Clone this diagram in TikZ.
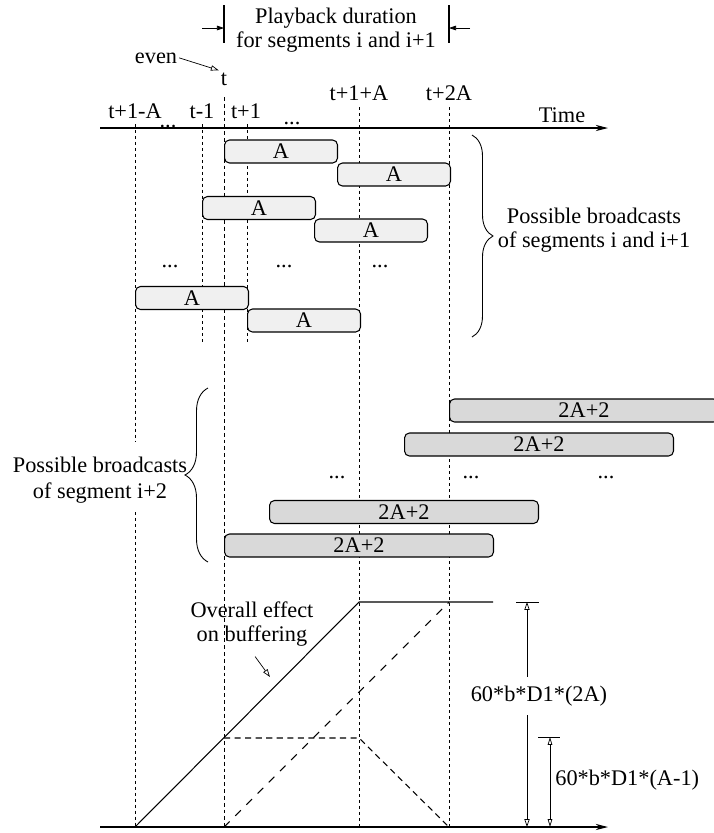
\documentclass[tikz,border=0pt]{standalone}
\usepackage{fontspec}
\setmainfont{Liberation Serif}
\usetikzlibrary{arrows.meta,decorations.pathreplacing}
\definecolor{segA}{gray}{0.94}
\definecolor{segB}{gray}{0.85}
\tikzset{
  guide/.style={line width=0.45pt, dash pattern=on 1.7pt off 1.7pt},
  abox/.style={draw, line width=0.6pt, fill=segA, rounded corners=2.8pt, anchor=west,
    minimum width=2.26cm, minimum height=0.46cm, inner sep=0pt},
  bbox/.style={abox, fill=segB, minimum width=5.38cm},
  lbl/.style={anchor=base, inner sep=1pt},
  opentip/.style={-{Triangle[open,length=4.5pt,width=3pt]}},
  dimtip/.style={{Triangle[open,length=4.5pt,width=2.6pt]}-{Triangle[open,length=4.5pt,width=2.6pt]}},
  axis/.style={line width=0.6pt, -{Stealth[length=7pt,width=3.5pt]}},
}

\begin{document}
\begin{tikzpicture}[x=0.02cm, y=-0.02cm, font=\fontsize{12.7}{13.5}\selectfont]
        \useasboundingbox (0,0) rectangle (714,833);

        % Playback duration
        \draw[line width=0.6pt] (224,5) -- (224,43);
        \draw[line width=0.6pt] (449,5) -- (449,43);
        \coordinate (pbl0) at (202,28);
        \coordinate (pbl) at (224,28);
        \coordinate (pbr0) at (470,28);
        \coordinate (pbr) at (449,28);
        \draw[-{Triangle[length=4pt,width=2.6pt]}] (pbl0) -- (pbl);
        \draw[-{Triangle[length=4pt,width=2.6pt]}] (pbr0) -- (pbr);
        \node[align=center] (play) at (336,30) {Playback duration\\for segments i and i+1};

        % Time axis
        \draw[axis] (100,128) -- (608,128);
        \node[lbl] (time) at (562,122) {Time};

        % Guide lines
        \draw[guide] (135,124) -- (135,442);
        \draw[guide] (135,512) -- (135,827);
        \draw[guide] (202,124) -- (202,343);
        \draw[guide] (247,124) -- (247,343);
        \draw[guide, line width=0.5pt, dash pattern=on 2.2pt off 1.7pt] (224,97) -- (224,827);
        \draw[guide] (359,107) -- (359,827);
        \draw[guide] (449,107) -- (449,827);

        % Time labels
        \node[lbl] (tA) at (135,118) {t+1-A};
        \node[lbl] (dotsa) at (168,127) {...};
        \node[lbl] (tm1) at (202,118) {t-1};
        \node[lbl] (tp1) at (246,118) {t+1};
        \node[lbl] (dotsb) at (292,124) {...};
        \node[lbl] (tpA) at (359,100) {t+1+A};
        \node[lbl] (t2A) at (449,100) {t+2A};
        \node[lbl] (tlab) at (224,85) {t};
        \node[lbl] (even) at (156,63) {even};
        \draw[opentip] (even.east) -- (tlab.north west);

        % Broadcasts of segments i and i+1
        \node[abox] (a1) at (224,151.5) {A};
        \node[abox] (a2) at (337,174.5) {A};
        \node[abox] (a3) at (202,208) {A};
        \node[abox] (a4) at (314,230.5) {A};
        \node (dotsc) at (170,266) {...};
        \node (dotsd) at (284,266) {...};
        \node (dotse) at (380,266) {...};
        \node[abox] (a5) at (135,298) {A};
        \node[abox] (a6) at (247,320.5) {A};

        \draw[decorate, decoration={brace, amplitude=0.42cm}, line width=0.5pt] (472,135) -- (472,337);
        \node[align=center] (segsab) at (594,230) {Possible broadcasts\\of segments i and i+1};

        % Broadcasts of segment i+2
        \node[bbox] (b1) at (449,410.5) {2A+2};
        \node[bbox] (b2) at (404,444.5) {2A+2};
        \node (dotsf) at (337,477) {...};
        \node (dotsg) at (471,477) {...};
        \node (dotsh) at (606,477) {...};
        \node[bbox] (b3) at (269,512) {2A+2};
        \node[bbox] (b4) at (224,545.5) {2A+2};

        \draw[decorate, decoration={brace, amplitude=0.46cm}, line width=0.5pt] (208,562) -- (208,388);
        \node[align=center, font=\fontsize{12.7}{14.7}\selectfont] (segc) at (100,480) {Possible broadcasts\\of segment i+2};

        % Buffering
        \draw[axis] (100,827) -- (608,827);
        \draw[line width=0.6pt] (135,827) -- (359,602) -- (493,602);
        \draw[line width=0.6pt, dash pattern=on 3.5pt off 2.5pt] (224,738) -- (359,738) -- (449,827);
        \draw[line width=0.6pt, dash pattern=on 4.5pt off 4.5pt] (224,827) -- (449,602);
        \node[align=center] (overall) at (252,624) {Overall effect\\on buffering};
        \coordinate (ovtip) at (270,677);
        \draw[opentip, shorten <=3pt] (overall.south) -- (ovtip);

        % Dimensions
        \draw (516,602) -- (539,602);
        \coordinate (bigtop) at (527,602);
        \coordinate (bigbot) at (527,827);
        \node[inner sep=5pt] (dimbig) at (539,696) {60*b*D1*(2A)};
        \draw[opentip] (dimbig.north -| bigtop) -- (bigtop);
        \draw[opentip] (dimbig.south -| bigtop) -- (bigbot);

        \draw (538,737) -- (560,737);
        \coordinate (smtop) at (550,737);
        \coordinate (smbot) at (550,827);
        \draw[dimtip] (smbot) -- (smtop);
        \node[anchor=west, inner sep=0pt] (dimsmall) at (555,780) {60*b*D1*(A-1)};
\end{tikzpicture}
\end{document}
